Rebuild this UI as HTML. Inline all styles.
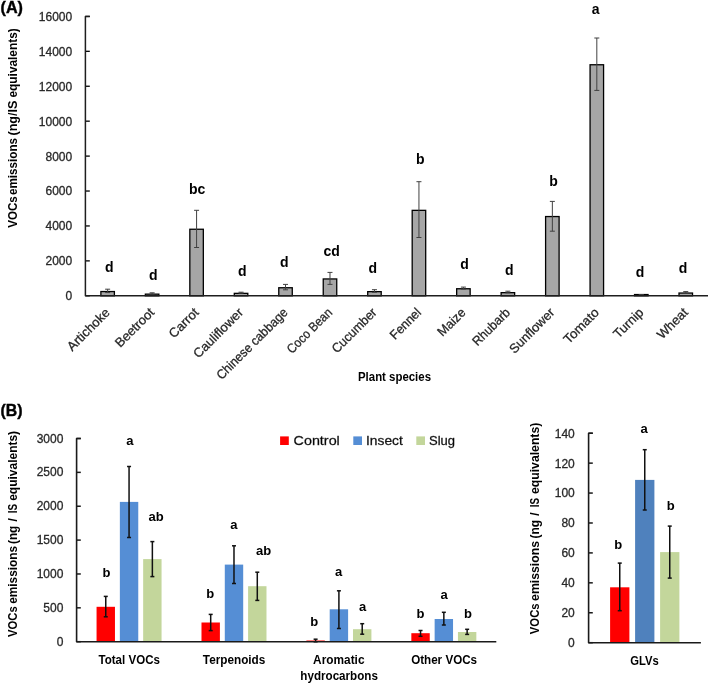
<!DOCTYPE html>
<html><head><meta charset="utf-8"><title>VOC emissions chart</title>
<style>
html,body{margin:0;padding:0;background:#fff;}
body{width:708px;height:684px;overflow:hidden;font-family:"Liberation Sans", sans-serif;}
svg{display:block;font-family:"Liberation Sans", sans-serif;will-change:transform;}
text[font-weight=normal],text.r{stroke:#333;stroke-width:0.3px;}
</style></head>
<body>
<svg width="708" height="684" viewBox="0 0 708 684">
<rect x="0" y="0" width="708" height="684" fill="#fff"/>
<text x="0.60" y="12.70" font-size="16" font-weight="bold" text-anchor="start" fill="#000" textLength="22.4" lengthAdjust="spacingAndGlyphs" stroke="#000" stroke-width="0.4">(A)</text>
<text x="72.20" y="300.20" font-size="12" font-weight="normal" text-anchor="end" fill="#222" >0</text>
<line x1="85.40" y1="295.80" x2="89.80" y2="295.80" stroke="#000" stroke-width="1.3"/>
<text x="72.20" y="265.27" font-size="12" font-weight="normal" text-anchor="end" fill="#222" >2000</text>
<line x1="85.40" y1="260.88" x2="89.80" y2="260.88" stroke="#000" stroke-width="1.3"/>
<text x="72.20" y="230.35" font-size="12" font-weight="normal" text-anchor="end" fill="#222" >4000</text>
<line x1="85.40" y1="225.95" x2="89.80" y2="225.95" stroke="#000" stroke-width="1.3"/>
<text x="72.20" y="195.43" font-size="12" font-weight="normal" text-anchor="end" fill="#222" >6000</text>
<line x1="85.40" y1="191.03" x2="89.80" y2="191.03" stroke="#000" stroke-width="1.3"/>
<text x="72.20" y="160.50" font-size="12" font-weight="normal" text-anchor="end" fill="#222" >8000</text>
<line x1="85.40" y1="156.10" x2="89.80" y2="156.10" stroke="#000" stroke-width="1.3"/>
<text x="72.20" y="125.57" font-size="12" font-weight="normal" text-anchor="end" fill="#222" >10000</text>
<line x1="85.40" y1="121.17" x2="89.80" y2="121.17" stroke="#000" stroke-width="1.3"/>
<text x="72.20" y="90.65" font-size="12" font-weight="normal" text-anchor="end" fill="#222" >12000</text>
<line x1="85.40" y1="86.25" x2="89.80" y2="86.25" stroke="#000" stroke-width="1.3"/>
<text x="72.20" y="55.72" font-size="12" font-weight="normal" text-anchor="end" fill="#222" >14000</text>
<line x1="85.40" y1="51.32" x2="89.80" y2="51.32" stroke="#000" stroke-width="1.3"/>
<text x="72.20" y="20.80" font-size="12" font-weight="normal" text-anchor="end" fill="#222" >16000</text>
<line x1="85.40" y1="16.40" x2="89.80" y2="16.40" stroke="#000" stroke-width="1.3"/>
<rect x="100.89" y="291.55" width="13.50" height="4.25" fill="#a6a6a6" stroke="#000" stroke-width="1.3"/>
<line x1="107.64" y1="289.20" x2="107.64" y2="292.60" stroke="#404040" stroke-width="1.0"/>
<line x1="105.14" y1="289.20" x2="110.14" y2="289.20" stroke="#404040" stroke-width="1.0"/>
<line x1="105.14" y1="292.60" x2="110.14" y2="292.60" stroke="#404040" stroke-width="1.0"/>
<text x="109.30" y="271.90" font-size="14" font-weight="bold" text-anchor="middle" fill="#000" >d</text>
<text transform="translate(110.64,313.30) rotate(-45)" x="0" y="0" font-size="13" text-anchor="end" fill="#222" class="r">Artichoke</text>
<rect x="145.36" y="294.15" width="13.50" height="1.65" fill="#a6a6a6" stroke="#000" stroke-width="1.3"/>
<line x1="152.11" y1="292.80" x2="152.11" y2="294.20" stroke="#404040" stroke-width="1.0"/>
<line x1="149.61" y1="292.80" x2="154.61" y2="292.80" stroke="#404040" stroke-width="1.0"/>
<line x1="149.61" y1="294.20" x2="154.61" y2="294.20" stroke="#404040" stroke-width="1.0"/>
<text x="153.40" y="279.50" font-size="14" font-weight="bold" text-anchor="middle" fill="#000" >d</text>
<text transform="translate(155.11,313.30) rotate(-45)" x="0" y="0" font-size="13" text-anchor="end" fill="#222" class="r">Beetroot</text>
<rect x="189.83" y="229.25" width="13.50" height="66.55" fill="#a6a6a6" stroke="#000" stroke-width="1.3"/>
<line x1="196.58" y1="210.30" x2="196.58" y2="247.50" stroke="#404040" stroke-width="1.0"/>
<line x1="194.08" y1="210.30" x2="199.08" y2="210.30" stroke="#404040" stroke-width="1.0"/>
<line x1="194.08" y1="247.50" x2="199.08" y2="247.50" stroke="#404040" stroke-width="1.0"/>
<text x="197.10" y="193.80" font-size="14" font-weight="bold" text-anchor="middle" fill="#000" >bc</text>
<text transform="translate(199.58,313.30) rotate(-45)" x="0" y="0" font-size="13" text-anchor="end" fill="#222" class="r">Carrot</text>
<rect x="234.30" y="293.35" width="13.50" height="2.45" fill="#a6a6a6" stroke="#000" stroke-width="1.3"/>
<line x1="241.05" y1="292.20" x2="241.05" y2="293.20" stroke="#404040" stroke-width="1.0"/>
<line x1="238.55" y1="292.20" x2="243.55" y2="292.20" stroke="#404040" stroke-width="1.0"/>
<line x1="238.55" y1="293.20" x2="243.55" y2="293.20" stroke="#404040" stroke-width="1.0"/>
<text x="242.40" y="275.70" font-size="14" font-weight="bold" text-anchor="middle" fill="#000" >d</text>
<text transform="translate(244.05,313.30) rotate(-45)" x="0" y="0" font-size="13" text-anchor="end" fill="#222" class="r">Cauliflower</text>
<rect x="278.77" y="287.75" width="13.50" height="8.05" fill="#a6a6a6" stroke="#000" stroke-width="1.3"/>
<line x1="285.52" y1="284.40" x2="285.52" y2="289.80" stroke="#404040" stroke-width="1.0"/>
<line x1="283.02" y1="284.40" x2="288.02" y2="284.40" stroke="#404040" stroke-width="1.0"/>
<line x1="283.02" y1="289.80" x2="288.02" y2="289.80" stroke="#404040" stroke-width="1.0"/>
<text x="284.30" y="267.30" font-size="14" font-weight="bold" text-anchor="middle" fill="#000" >d</text>
<text transform="translate(288.52,313.30) rotate(-45)" x="0" y="0" font-size="13" text-anchor="end" fill="#222" class="r" textLength="94.6" lengthAdjust="spacingAndGlyphs">Chinese cabbage</text>
<rect x="323.24" y="278.95" width="13.50" height="16.85" fill="#a6a6a6" stroke="#000" stroke-width="1.3"/>
<line x1="329.99" y1="272.40" x2="329.99" y2="284.40" stroke="#404040" stroke-width="1.0"/>
<line x1="327.49" y1="272.40" x2="332.49" y2="272.40" stroke="#404040" stroke-width="1.0"/>
<line x1="327.49" y1="284.40" x2="332.49" y2="284.40" stroke="#404040" stroke-width="1.0"/>
<text x="331.70" y="255.60" font-size="14" font-weight="bold" text-anchor="middle" fill="#000" >cd</text>
<text transform="translate(332.99,313.30) rotate(-45)" x="0" y="0" font-size="13" text-anchor="end" fill="#222" class="r" textLength="57.9" lengthAdjust="spacingAndGlyphs">Coco Bean</text>
<rect x="367.71" y="291.65" width="13.50" height="4.15" fill="#a6a6a6" stroke="#000" stroke-width="1.3"/>
<line x1="374.46" y1="289.70" x2="374.46" y2="292.30" stroke="#404040" stroke-width="1.0"/>
<line x1="371.96" y1="289.70" x2="376.96" y2="289.70" stroke="#404040" stroke-width="1.0"/>
<line x1="371.96" y1="292.30" x2="376.96" y2="292.30" stroke="#404040" stroke-width="1.0"/>
<text x="372.70" y="273.40" font-size="14" font-weight="bold" text-anchor="middle" fill="#000" >d</text>
<text transform="translate(377.46,313.30) rotate(-45)" x="0" y="0" font-size="13" text-anchor="end" fill="#222" class="r" textLength="57.2" lengthAdjust="spacingAndGlyphs">Cucumber</text>
<rect x="412.19" y="210.35" width="13.50" height="85.45" fill="#a6a6a6" stroke="#000" stroke-width="1.3"/>
<line x1="418.94" y1="181.70" x2="418.94" y2="237.50" stroke="#404040" stroke-width="1.0"/>
<line x1="416.44" y1="181.70" x2="421.44" y2="181.70" stroke="#404040" stroke-width="1.0"/>
<line x1="416.44" y1="237.50" x2="421.44" y2="237.50" stroke="#404040" stroke-width="1.0"/>
<text x="420.30" y="164.30" font-size="14" font-weight="bold" text-anchor="middle" fill="#000" >b</text>
<text transform="translate(421.94,313.30) rotate(-45)" x="0" y="0" font-size="13" text-anchor="end" fill="#222" class="r" textLength="38.0" lengthAdjust="spacingAndGlyphs">Fennel</text>
<rect x="456.66" y="288.75" width="13.50" height="7.05" fill="#a6a6a6" stroke="#000" stroke-width="1.3"/>
<line x1="463.41" y1="287.10" x2="463.41" y2="289.10" stroke="#404040" stroke-width="1.0"/>
<line x1="460.91" y1="287.10" x2="465.91" y2="287.10" stroke="#404040" stroke-width="1.0"/>
<line x1="460.91" y1="289.10" x2="465.91" y2="289.10" stroke="#404040" stroke-width="1.0"/>
<text x="464.50" y="269.10" font-size="14" font-weight="bold" text-anchor="middle" fill="#000" >d</text>
<text transform="translate(466.41,313.30) rotate(-45)" x="0" y="0" font-size="13" text-anchor="end" fill="#222" class="r" textLength="33.7" lengthAdjust="spacingAndGlyphs">Maize</text>
<rect x="501.13" y="292.65" width="13.50" height="3.15" fill="#a6a6a6" stroke="#000" stroke-width="1.3"/>
<line x1="507.88" y1="291.20" x2="507.88" y2="292.80" stroke="#404040" stroke-width="1.0"/>
<line x1="505.38" y1="291.20" x2="510.38" y2="291.20" stroke="#404040" stroke-width="1.0"/>
<line x1="505.38" y1="292.80" x2="510.38" y2="292.80" stroke="#404040" stroke-width="1.0"/>
<text x="509.30" y="274.90" font-size="14" font-weight="bold" text-anchor="middle" fill="#000" >d</text>
<text transform="translate(510.88,313.30) rotate(-45)" x="0" y="0" font-size="13" text-anchor="end" fill="#222" class="r" textLength="47.1" lengthAdjust="spacingAndGlyphs">Rhubarb</text>
<rect x="545.60" y="216.55" width="13.50" height="79.25" fill="#a6a6a6" stroke="#000" stroke-width="1.3"/>
<line x1="552.35" y1="201.40" x2="552.35" y2="231.20" stroke="#404040" stroke-width="1.0"/>
<line x1="549.85" y1="201.40" x2="554.85" y2="201.40" stroke="#404040" stroke-width="1.0"/>
<line x1="549.85" y1="231.20" x2="554.85" y2="231.20" stroke="#404040" stroke-width="1.0"/>
<text x="553.50" y="186.40" font-size="14" font-weight="bold" text-anchor="middle" fill="#000" >b</text>
<text transform="translate(555.35,313.30) rotate(-45)" x="0" y="0" font-size="13" text-anchor="end" fill="#222" class="r">Sunflower</text>
<rect x="590.07" y="64.75" width="13.50" height="231.05" fill="#a6a6a6" stroke="#000" stroke-width="1.3"/>
<line x1="596.82" y1="38.00" x2="596.82" y2="90.40" stroke="#404040" stroke-width="1.0"/>
<line x1="594.32" y1="38.00" x2="599.32" y2="38.00" stroke="#404040" stroke-width="1.0"/>
<line x1="594.32" y1="90.40" x2="599.32" y2="90.40" stroke="#404040" stroke-width="1.0"/>
<text x="595.70" y="14.20" font-size="14" font-weight="bold" text-anchor="middle" fill="#000" >a</text>
<text transform="translate(599.82,313.30) rotate(-45)" x="0" y="0" font-size="13" text-anchor="end" fill="#222" class="r" textLength="44.1" lengthAdjust="spacingAndGlyphs">Tomato</text>
<rect x="634.54" y="294.55" width="13.50" height="1.25" fill="#a6a6a6" stroke="#000" stroke-width="1.3"/>
<line x1="641.29" y1="294.60" x2="641.29" y2="295.00" stroke="#404040" stroke-width="1.0"/>
<line x1="638.79" y1="294.60" x2="643.79" y2="294.60" stroke="#404040" stroke-width="1.0"/>
<line x1="638.79" y1="295.00" x2="643.79" y2="295.00" stroke="#404040" stroke-width="1.0"/>
<text x="640.00" y="276.50" font-size="14" font-weight="bold" text-anchor="middle" fill="#000" >d</text>
<text transform="translate(644.29,313.30) rotate(-45)" x="0" y="0" font-size="13" text-anchor="end" fill="#222" class="r">Turnip</text>
<rect x="679.01" y="293.05" width="13.50" height="2.75" fill="#a6a6a6" stroke="#000" stroke-width="1.3"/>
<line x1="685.76" y1="291.60" x2="685.76" y2="293.20" stroke="#404040" stroke-width="1.0"/>
<line x1="683.26" y1="291.60" x2="688.26" y2="291.60" stroke="#404040" stroke-width="1.0"/>
<line x1="683.26" y1="293.20" x2="688.26" y2="293.20" stroke="#404040" stroke-width="1.0"/>
<text x="683.00" y="273.40" font-size="14" font-weight="bold" text-anchor="middle" fill="#000" >d</text>
<text transform="translate(688.76,313.30) rotate(-45)" x="0" y="0" font-size="13" text-anchor="end" fill="#222" class="r">Wheat</text>
<path d="M89.80,16.40 H85.40 V295.80 H708.00" fill="none" stroke="#1e1e1e" stroke-width="1.5" stroke-linejoin="round"/>
<text x="394.50" y="381.20" font-size="12" font-weight="bold" text-anchor="middle" fill="#000" textLength="73" lengthAdjust="spacingAndGlyphs" >Plant species</text>
<text x="0.50" y="416.10" font-size="16" font-weight="bold" text-anchor="start" fill="#000" textLength="22.0" lengthAdjust="spacingAndGlyphs" stroke="#000" stroke-width="0.4">(B)</text>
<text transform="translate(16.80,227.80) rotate(-90)" x="0" y="0" font-size="12" font-weight="bold" textLength="31.50" lengthAdjust="spacingAndGlyphs">VOCs</text>
<text transform="translate(16.80,195.00) rotate(-90)" x="0" y="0" font-size="12" font-weight="bold" textLength="57.00" lengthAdjust="spacingAndGlyphs">emissions</text>
<text transform="translate(16.80,135.50) rotate(-90)" x="0" y="0" font-size="12" font-weight="bold" textLength="34.90" lengthAdjust="spacingAndGlyphs">(ng/IS</text>
<text transform="translate(16.80,97.50) rotate(-90)" x="0" y="0" font-size="12" font-weight="bold" textLength="69.20" lengthAdjust="spacingAndGlyphs">equivalents)</text>
<text transform="translate(17.00,637.10) rotate(-90)" x="0" y="0" font-size="12" font-weight="bold" textLength="30.80" lengthAdjust="spacingAndGlyphs">VOCs</text>
<text transform="translate(17.00,603.80) rotate(-90)" x="0" y="0" font-size="12" font-weight="bold" textLength="57.80" lengthAdjust="spacingAndGlyphs">emissions</text>
<text transform="translate(17.00,544.00) rotate(-90)" x="0" y="0" font-size="12" font-weight="bold" textLength="18.30" lengthAdjust="spacingAndGlyphs">(ng</text>
<text transform="translate(17.00,519.95) rotate(-90)" x="0" y="0" font-size="12" font-weight="bold" text-anchor="middle">/</text>
<text transform="translate(17.00,513.20) rotate(-90)" x="0" y="0" font-size="12" font-weight="bold" textLength="9.40" lengthAdjust="spacingAndGlyphs">IS</text>
<text transform="translate(17.00,500.80) rotate(-90)" x="0" y="0" font-size="12" font-weight="bold" textLength="69.90" lengthAdjust="spacingAndGlyphs">equivalents)</text>
<text x="63.40" y="645.70" font-size="12" font-weight="normal" text-anchor="end" fill="#222" >0</text>
<line x1="76.60" y1="641.70" x2="80.80" y2="641.70" stroke="#1a1a1a" stroke-width="1.5"/>
<text x="63.40" y="611.83" font-size="12" font-weight="normal" text-anchor="end" fill="#222" >500</text>
<line x1="76.60" y1="607.83" x2="80.80" y2="607.83" stroke="#1a1a1a" stroke-width="1.5"/>
<text x="63.40" y="577.97" font-size="12" font-weight="normal" text-anchor="end" fill="#222" >1000</text>
<line x1="76.60" y1="573.97" x2="80.80" y2="573.97" stroke="#1a1a1a" stroke-width="1.5"/>
<text x="63.40" y="544.10" font-size="12" font-weight="normal" text-anchor="end" fill="#222" >1500</text>
<line x1="76.60" y1="540.10" x2="80.80" y2="540.10" stroke="#1a1a1a" stroke-width="1.5"/>
<text x="63.40" y="510.23" font-size="12" font-weight="normal" text-anchor="end" fill="#222" >2000</text>
<line x1="76.60" y1="506.23" x2="80.80" y2="506.23" stroke="#1a1a1a" stroke-width="1.5"/>
<text x="63.40" y="476.37" font-size="12" font-weight="normal" text-anchor="end" fill="#222" >2500</text>
<line x1="76.60" y1="472.37" x2="80.80" y2="472.37" stroke="#1a1a1a" stroke-width="1.5"/>
<text x="63.40" y="442.50" font-size="12" font-weight="normal" text-anchor="end" fill="#222" >3000</text>
<line x1="76.60" y1="438.50" x2="80.80" y2="438.50" stroke="#1a1a1a" stroke-width="1.5"/>
<rect x="96.56" y="606.80" width="18.40" height="34.90" fill="#ff0000"/>
<rect x="119.86" y="501.90" width="18.40" height="139.80" fill="#558ed5"/>
<rect x="143.16" y="559.10" width="18.40" height="82.60" fill="#c3d69b"/>
<line x1="105.76" y1="596.40" x2="105.76" y2="616.80" stroke="#111" stroke-width="1.5"/>
<line x1="103.76" y1="596.40" x2="107.76" y2="596.40" stroke="#111" stroke-width="1.5"/>
<line x1="103.76" y1="616.80" x2="107.76" y2="616.80" stroke="#111" stroke-width="1.5"/>
<text x="106.50" y="576.60" font-size="13" font-weight="bold" text-anchor="middle" fill="#000" >b</text>
<line x1="129.06" y1="466.50" x2="129.06" y2="537.50" stroke="#111" stroke-width="1.5"/>
<line x1="127.06" y1="466.50" x2="131.06" y2="466.50" stroke="#111" stroke-width="1.5"/>
<line x1="127.06" y1="537.50" x2="131.06" y2="537.50" stroke="#111" stroke-width="1.5"/>
<text x="129.90" y="444.90" font-size="13" font-weight="bold" text-anchor="middle" fill="#000" >a</text>
<line x1="152.36" y1="541.60" x2="152.36" y2="576.60" stroke="#111" stroke-width="1.5"/>
<line x1="150.36" y1="541.60" x2="154.36" y2="541.60" stroke="#111" stroke-width="1.5"/>
<line x1="150.36" y1="576.60" x2="154.36" y2="576.60" stroke="#111" stroke-width="1.5"/>
<text x="156.20" y="521.40" font-size="13" font-weight="bold" text-anchor="middle" fill="#000" >ab</text>
<rect x="201.49" y="622.50" width="18.40" height="19.20" fill="#ff0000"/>
<rect x="224.79" y="564.60" width="18.40" height="77.10" fill="#558ed5"/>
<rect x="248.09" y="586.20" width="18.40" height="55.50" fill="#c3d69b"/>
<line x1="210.69" y1="614.40" x2="210.69" y2="630.60" stroke="#111" stroke-width="1.5"/>
<line x1="208.69" y1="614.40" x2="212.69" y2="614.40" stroke="#111" stroke-width="1.5"/>
<line x1="208.69" y1="630.60" x2="212.69" y2="630.60" stroke="#111" stroke-width="1.5"/>
<text x="210.30" y="597.50" font-size="13" font-weight="bold" text-anchor="middle" fill="#000" >b</text>
<line x1="233.99" y1="545.80" x2="233.99" y2="583.50" stroke="#111" stroke-width="1.5"/>
<line x1="231.99" y1="545.80" x2="235.99" y2="545.80" stroke="#111" stroke-width="1.5"/>
<line x1="231.99" y1="583.50" x2="235.99" y2="583.50" stroke="#111" stroke-width="1.5"/>
<text x="233.90" y="529.10" font-size="13" font-weight="bold" text-anchor="middle" fill="#000" >a</text>
<line x1="257.29" y1="572.20" x2="257.29" y2="600.40" stroke="#111" stroke-width="1.5"/>
<line x1="255.29" y1="572.20" x2="259.29" y2="572.20" stroke="#111" stroke-width="1.5"/>
<line x1="255.29" y1="600.40" x2="259.29" y2="600.40" stroke="#111" stroke-width="1.5"/>
<text x="263.50" y="555.20" font-size="13" font-weight="bold" text-anchor="middle" fill="#000" >ab</text>
<rect x="306.41" y="640.50" width="18.40" height="1.20" fill="#ff0000"/>
<rect x="329.71" y="609.30" width="18.40" height="32.40" fill="#558ed5"/>
<rect x="353.01" y="629.20" width="18.40" height="12.50" fill="#c3d69b"/>
<line x1="315.61" y1="639.20" x2="315.61" y2="641.80" stroke="#111" stroke-width="1.5"/>
<line x1="313.61" y1="639.20" x2="317.61" y2="639.20" stroke="#111" stroke-width="1.5"/>
<line x1="313.61" y1="641.80" x2="317.61" y2="641.80" stroke="#111" stroke-width="1.5"/>
<text x="314.30" y="625.60" font-size="13" font-weight="bold" text-anchor="middle" fill="#000" >b</text>
<line x1="338.91" y1="590.80" x2="338.91" y2="628.50" stroke="#111" stroke-width="1.5"/>
<line x1="336.91" y1="590.80" x2="340.91" y2="590.80" stroke="#111" stroke-width="1.5"/>
<line x1="336.91" y1="628.50" x2="340.91" y2="628.50" stroke="#111" stroke-width="1.5"/>
<text x="338.60" y="576.40" font-size="13" font-weight="bold" text-anchor="middle" fill="#000" >a</text>
<line x1="362.21" y1="623.70" x2="362.21" y2="634.20" stroke="#111" stroke-width="1.5"/>
<line x1="360.21" y1="623.70" x2="364.21" y2="623.70" stroke="#111" stroke-width="1.5"/>
<line x1="360.21" y1="634.20" x2="364.21" y2="634.20" stroke="#111" stroke-width="1.5"/>
<text x="362.50" y="610.50" font-size="13" font-weight="bold" text-anchor="middle" fill="#000" >a</text>
<rect x="411.34" y="633.20" width="18.40" height="8.50" fill="#ff0000"/>
<rect x="434.64" y="619.00" width="18.40" height="22.70" fill="#558ed5"/>
<rect x="457.94" y="632.00" width="18.40" height="9.70" fill="#c3d69b"/>
<line x1="420.54" y1="630.50" x2="420.54" y2="636.30" stroke="#111" stroke-width="1.5"/>
<line x1="418.54" y1="630.50" x2="422.54" y2="630.50" stroke="#111" stroke-width="1.5"/>
<line x1="418.54" y1="636.30" x2="422.54" y2="636.30" stroke="#111" stroke-width="1.5"/>
<text x="420.40" y="618.30" font-size="13" font-weight="bold" text-anchor="middle" fill="#000" >b</text>
<line x1="443.84" y1="612.30" x2="443.84" y2="625.00" stroke="#111" stroke-width="1.5"/>
<line x1="441.84" y1="612.30" x2="445.84" y2="612.30" stroke="#111" stroke-width="1.5"/>
<line x1="441.84" y1="625.00" x2="445.84" y2="625.00" stroke="#111" stroke-width="1.5"/>
<text x="444.00" y="599.10" font-size="13" font-weight="bold" text-anchor="middle" fill="#000" >a</text>
<line x1="467.14" y1="629.30" x2="467.14" y2="634.40" stroke="#111" stroke-width="1.5"/>
<line x1="465.14" y1="629.30" x2="469.14" y2="629.30" stroke="#111" stroke-width="1.5"/>
<line x1="465.14" y1="634.40" x2="469.14" y2="634.40" stroke="#111" stroke-width="1.5"/>
<text x="467.90" y="618.30" font-size="13" font-weight="bold" text-anchor="middle" fill="#000" >b</text>
<path d="M80.80,438.50 H76.60 V641.70 H496.30" fill="none" stroke="#1a1a1a" stroke-width="1.6" stroke-linejoin="round"/>
<text x="129.20" y="663.80" font-size="12" font-weight="bold" text-anchor="middle" fill="#000" textLength="61.4" lengthAdjust="spacingAndGlyphs" >Total VOCs</text>
<text x="234.10" y="664.30" font-size="12" font-weight="bold" text-anchor="middle" fill="#000" textLength="62.5" lengthAdjust="spacingAndGlyphs" >Terpenoids</text>
<text x="338.80" y="663.60" font-size="12" font-weight="bold" text-anchor="middle" fill="#000" textLength="51.4" lengthAdjust="spacingAndGlyphs" >Aromatic</text>
<text x="339.10" y="679.90" font-size="12" font-weight="bold" text-anchor="middle" fill="#000" textLength="77.5" lengthAdjust="spacingAndGlyphs" >hydrocarbons</text>
<text x="444.10" y="664.30" font-size="12" font-weight="bold" text-anchor="middle" fill="#000" textLength="65.9" lengthAdjust="spacingAndGlyphs" >Other VOCs</text>
<rect x="280.10" y="436.40" width="8.70" height="8.60" fill="#ff0000"/>
<text x="293.60" y="445.00" font-size="13" font-weight="normal" text-anchor="start" fill="#000" textLength="46.2" lengthAdjust="spacingAndGlyphs" >Control</text>
<rect x="353.30" y="436.40" width="8.70" height="8.60" fill="#558ed5"/>
<text x="366.00" y="445.00" font-size="13" font-weight="normal" text-anchor="start" fill="#000" textLength="36.8" lengthAdjust="spacingAndGlyphs" >Insect</text>
<rect x="416.30" y="436.40" width="8.70" height="8.60" fill="#c3d69b"/>
<text x="429.00" y="445.00" font-size="13" font-weight="normal" text-anchor="start" fill="#000" textLength="26.0" lengthAdjust="spacingAndGlyphs" >Slug</text>
<text transform="translate(538.80,634.20) rotate(-90)" x="0" y="0" font-size="12" font-weight="bold" textLength="30.80" lengthAdjust="spacingAndGlyphs">VOCs</text>
<text transform="translate(538.80,600.90) rotate(-90)" x="0" y="0" font-size="12" font-weight="bold" textLength="59.90" lengthAdjust="spacingAndGlyphs">emissions</text>
<text transform="translate(538.80,538.50) rotate(-90)" x="0" y="0" font-size="12" font-weight="bold" textLength="18.40" lengthAdjust="spacingAndGlyphs">(ng</text>
<text transform="translate(538.80,514.15) rotate(-90)" x="0" y="0" font-size="12" font-weight="bold" text-anchor="middle">/</text>
<text transform="translate(538.80,507.20) rotate(-90)" x="0" y="0" font-size="12" font-weight="bold" textLength="9.40" lengthAdjust="spacingAndGlyphs">IS</text>
<text transform="translate(538.80,494.00) rotate(-90)" x="0" y="0" font-size="12" font-weight="bold" textLength="71.30" lengthAdjust="spacingAndGlyphs">equivalents)</text>
<text x="574.80" y="647.10" font-size="12" font-weight="normal" text-anchor="end" fill="#222" >0</text>
<line x1="588.60" y1="642.70" x2="592.80" y2="642.70" stroke="#1a1a1a" stroke-width="1.5"/>
<text x="574.80" y="617.17" font-size="12" font-weight="normal" text-anchor="end" fill="#222" >20</text>
<line x1="588.60" y1="612.77" x2="592.80" y2="612.77" stroke="#1a1a1a" stroke-width="1.5"/>
<text x="574.80" y="587.24" font-size="12" font-weight="normal" text-anchor="end" fill="#222" >40</text>
<line x1="588.60" y1="582.84" x2="592.80" y2="582.84" stroke="#1a1a1a" stroke-width="1.5"/>
<text x="574.80" y="557.31" font-size="12" font-weight="normal" text-anchor="end" fill="#222" >60</text>
<line x1="588.60" y1="552.91" x2="592.80" y2="552.91" stroke="#1a1a1a" stroke-width="1.5"/>
<text x="574.80" y="527.39" font-size="12" font-weight="normal" text-anchor="end" fill="#222" >80</text>
<line x1="588.60" y1="522.99" x2="592.80" y2="522.99" stroke="#1a1a1a" stroke-width="1.5"/>
<text x="574.80" y="497.46" font-size="12" font-weight="normal" text-anchor="end" fill="#222" >100</text>
<line x1="588.60" y1="493.06" x2="592.80" y2="493.06" stroke="#1a1a1a" stroke-width="1.5"/>
<text x="574.80" y="467.53" font-size="12" font-weight="normal" text-anchor="end" fill="#222" >120</text>
<line x1="588.60" y1="463.13" x2="592.80" y2="463.13" stroke="#1a1a1a" stroke-width="1.5"/>
<text x="574.80" y="437.60" font-size="12" font-weight="normal" text-anchor="end" fill="#222" >140</text>
<line x1="588.60" y1="433.20" x2="592.80" y2="433.20" stroke="#1a1a1a" stroke-width="1.5"/>
<rect x="610.10" y="587.30" width="19.30" height="55.40" fill="#ff0000"/>
<rect x="635.10" y="479.90" width="19.30" height="162.80" fill="#4f81bd"/>
<rect x="660.10" y="552.10" width="19.30" height="90.60" fill="#c3d69b"/>
<line x1="619.75" y1="563.10" x2="619.75" y2="610.70" stroke="#111" stroke-width="1.5"/>
<line x1="617.75" y1="563.10" x2="621.75" y2="563.10" stroke="#111" stroke-width="1.5"/>
<line x1="617.75" y1="610.70" x2="621.75" y2="610.70" stroke="#111" stroke-width="1.5"/>
<text x="618.30" y="549.20" font-size="13" font-weight="bold" text-anchor="middle" fill="#000" >b</text>
<line x1="644.75" y1="449.70" x2="644.75" y2="510.00" stroke="#111" stroke-width="1.5"/>
<line x1="642.75" y1="449.70" x2="646.75" y2="449.70" stroke="#111" stroke-width="1.5"/>
<line x1="642.75" y1="510.00" x2="646.75" y2="510.00" stroke="#111" stroke-width="1.5"/>
<text x="644.00" y="433.30" font-size="13" font-weight="bold" text-anchor="middle" fill="#000" >a</text>
<line x1="669.75" y1="526.10" x2="669.75" y2="578.10" stroke="#111" stroke-width="1.5"/>
<line x1="667.75" y1="526.10" x2="671.75" y2="526.10" stroke="#111" stroke-width="1.5"/>
<line x1="667.75" y1="578.10" x2="671.75" y2="578.10" stroke="#111" stroke-width="1.5"/>
<text x="670.80" y="510.40" font-size="13" font-weight="bold" text-anchor="middle" fill="#000" >b</text>
<path d="M592.80,433.20 H588.60 V642.70 H700.90" fill="none" stroke="#1a1a1a" stroke-width="1.6" stroke-linejoin="round"/>
<text x="644.60" y="665.00" font-size="12" font-weight="bold" text-anchor="middle" fill="#000" textLength="28.5" lengthAdjust="spacingAndGlyphs" >GLVs</text>
</svg>
</body></html>
